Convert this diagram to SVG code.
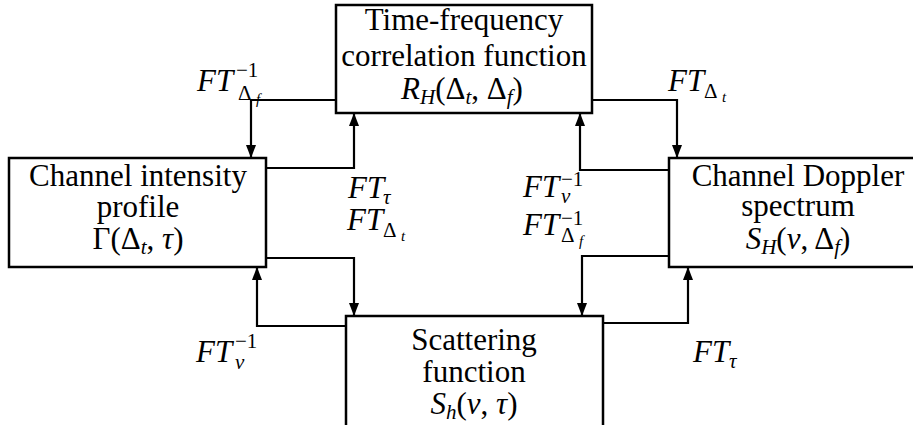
<svg xmlns="http://www.w3.org/2000/svg" width="913" height="425" viewBox="0 0 913 425">
<style>
.box{fill:#fff;stroke:#000;stroke-width:2.5}
.c{fill:none;stroke:#000;stroke-width:2.2;stroke-linejoin:miter}
.t{font-family:"Liberation Serif","DejaVu Serif",serif;font-size:31px;fill:#000}
.m{text-anchor:middle}
.i{font-style:italic}
.s{font-size:21px}
.ss{font-size:15px}
</style>
<defs>
<marker id="ah" viewBox="0 0 13 10" refX="13" refY="5" markerWidth="13" markerHeight="10" markerUnits="userSpaceOnUse" orient="auto"><path d="M0,0 L13,5 L0,10 z" fill="#000"/></marker>
</defs>
<g id="connectors">
<polyline class="c" points="336,100 251,100 251,158" marker-end="url(#ah)"/>
<polyline class="c" points="266,168 354,168 354,113" marker-end="url(#ah)"/>
<polyline class="c" points="592,100 677,100 677,158" marker-end="url(#ah)"/>
<polyline class="c" points="669,170 580,170 580,113" marker-end="url(#ah)"/>
<polyline class="c" points="266,258 354,258 354,316" marker-end="url(#ah)"/>
<polyline class="c" points="346,326 257,326 257,267" marker-end="url(#ah)"/>
<polyline class="c" points="669,256 582,256 582,316" marker-end="url(#ah)"/>
<polyline class="c" points="603,323 688,323 688,267" marker-end="url(#ah)"/>
</g>
<g id="tf-correlation">
<rect class="box" x="336" y="5" width="256" height="108"/>
<text class="t m" x="464" y="30">Time-frequency</text>
<text class="t m" x="464" y="66">correlation function</text>
<text class="t m" x="462" y="99"><tspan class="i">R</tspan><tspan class="i s" dy="5">H</tspan><tspan dy="-5">(Δ</tspan><tspan class="i s" dy="5">t</tspan><tspan dy="-5">, Δ</tspan><tspan class="i s" dy="5">f</tspan><tspan dy="-5">)</tspan></text>
</g>
<g id="intensity-profile">
<rect class="box" x="9" y="158" width="257" height="109"/>
<text class="t m" x="138" y="186">Channel intensity</text>
<text class="t m" x="138" y="217">profile</text>
<text class="t m" x="138" y="249">Γ(Δ<tspan class="i s" dy="5">t</tspan><tspan dy="-5">, </tspan><tspan class="i">τ</tspan>)</text>
</g>
<g id="doppler-spectrum">
<rect class="box" x="669" y="158" width="258" height="109"/>
<text class="t m" x="798" y="186">Channel Doppler</text>
<text class="t m" x="798" y="216">spectrum</text>
<text class="t m" x="798" y="249"><tspan class="i">S</tspan><tspan class="i s" dy="5">H</tspan><tspan dy="-5">(</tspan><tspan class="i">ν</tspan><tspan>, Δ</tspan><tspan class="i s" dy="5">f</tspan><tspan dy="-5">)</tspan></text>
</g>
<g id="scattering">
<rect class="box" x="346" y="316" width="257" height="130"/>
<text class="t m" x="474" y="350">Scattering</text>
<text class="t m" x="474" y="382">function</text>
<text class="t m" x="474" y="414"><tspan class="i">S</tspan><tspan class="i s" dy="5">h</tspan><tspan dy="-5">(</tspan><tspan class="i">ν</tspan><tspan>, </tspan><tspan class="i">τ</tspan>)</text>
</g>
<g id="labels">
<text class="t"><tspan class="i" x="197" y="91">FT</tspan><tspan class="s" x="236" y="77">−1</tspan><tspan class="s" x="238" y="100">Δ</tspan><tspan class="ss i" x="256" y="104">f</tspan></text>

<text class="t"><tspan class="i" x="668" y="91">FT</tspan><tspan class="s" x="704" y="98">Δ</tspan><tspan class="ss i" x="722" y="102">t</tspan></text>

<text class="t"><tspan class="i" x="348" y="198">FT</tspan><tspan class="s i" x="383" y="204">τ</tspan></text>
<text class="t"><tspan class="i" x="347" y="230">FT</tspan><tspan class="s" x="383" y="237">Δ</tspan><tspan class="ss i" x="401" y="241">t</tspan></text>

<text class="t"><tspan class="i" x="523" y="197">FT</tspan><tspan class="s" x="561" y="186">−1</tspan><tspan class="s i" x="561" y="203">ν</tspan></text>
<text class="t"><tspan class="i" x="523" y="235">FT</tspan><tspan class="s" x="561" y="225">−1</tspan><tspan class="s" x="561" y="242">Δ</tspan><tspan class="ss i" x="579" y="246">f</tspan></text>

<text class="t"><tspan class="i" x="196" y="362">FT</tspan><tspan class="s" x="235" y="348">−1</tspan><tspan class="s i" x="235" y="369">ν</tspan></text>

<text class="t"><tspan class="i" x="693" y="362">FT</tspan><tspan class="s i" x="729" y="368">τ</tspan></text>
</g>
</svg>
